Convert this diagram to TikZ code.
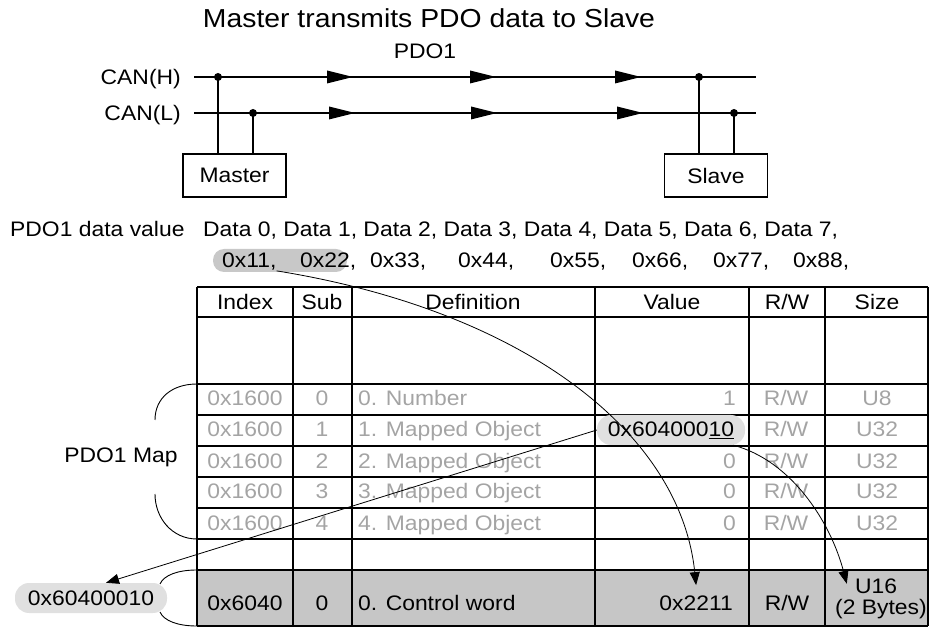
\documentclass[tikz,border=0pt]{standalone}
\usepackage{fontspec}
\setmainfont[FakeStretch=1.09]{Liberation Sans}
\usepackage{tikz}
\usetikzlibrary{arrows.meta}
\definecolor{faded}{HTML}{A4A4A4}
\definecolor{rowgray}{HTML}{C6C6C6}
\definecolor{pilldark}{HTML}{C8C8C8}
\definecolor{pilllight}{HTML}{E0E0E0}

\begin{document}
\begin{tikzpicture}[x=1pt,y=-1pt,font=\fontsize{21}{16}\selectfont,
  bus/.style={line width=1.3pt},
  grid/.style={line width=1.6pt},
  box/.style={draw,line width=1.2pt,minimum width=103pt,minimum height=43pt},
  pill/.style={fill=pilllight,rounded corners=14pt,minimum height=30pt,inner xsep=0pt},
  txt/.style={anchor=base,inner sep=0pt},
  dim/.style={txt,text=faded},
  link/.style={line width=0.8pt,-{Triangle[length=13pt,width=10pt]}}]
  \useasboundingbox (0,0) rectangle (930,628);
  % bus
  \node[txt,font=\fontsize{26}{28}\selectfont] (title) at (429,28) {Master transmits PDO data to Slave};
  \node[txt] (pdo) at (425,59) {PDO1};
  \node[txt,anchor=base east] (canh) at (181,85) {CAN(H)};
  \node[txt,anchor=base east] (canl) at (181,121) {CAN(L)};
  \coordinate (hl) at (194,77); \coordinate (hr) at (756,77);
  \coordinate (ll) at (194,113); \coordinate (lr) at (756,113);
  \draw[bus] (hl) -- (hr); \draw[bus] (ll) -- (lr);
  \foreach \t in {353,496,641} \fill (\t,77) -- ++(-26,-6.5) -- ++(0,13) -- cycle;
  \foreach \t in {355,497,643} \fill (\t,113) -- ++(-26,-6.5) -- ++(0,13) -- cycle;
  \node[box] (master) at (234.5,175.5) {Master};
  \node[box] (slave) at (716,175.5) {Slave};
  \coordinate (mh) at (218,77); \coordinate (ml) at (253,113);
  \coordinate (sh) at (699,77); \coordinate (sl) at (734,113);
  \foreach \c/\b in {mh/master,ml/master,sh/slave,sl/slave}{
    \draw[bus] (\c) -- (\c |- \b.north);
    \fill (\c) circle (4pt);
  }
  % data bytes
  \node[txt,anchor=base west] (pdoval) at (10,237) {PDO1 data value};
  \node[txt,anchor=base west] (data) at (203,237) {Data 0, Data 1, Data 2, Data 3, Data 4, Data 5, Data 6, Data 7,};
  \fill[pilldark,rounded corners=11pt] (213,249) rectangle (347,272);
  \foreach \x/\v [count=\i from 0] in {222/11,300/22,370/33,458/44,550/55,632/66,713/77,793/88}
    \node[txt,anchor=base west] (hx\i) at (\x,268) {0x\v,};
  % table
  \fill[rowgray] (197,570) rectangle (928,626);
  \foreach \y in {287,317,384,415,446,477,508,539,570,626} \draw[grid] (197,\y) -- (928,\y);
  \foreach \x in {197,293,352,595,749,825,928} \draw[grid] (\x,287) -- (\x,626);
  \foreach \x/\t [count=\i] in {245/Index,322/Sub,473/Definition,672/Value,787/{R/W},877/Size}
    \node[txt] (head\i) at (\x,310) {\t};
  \foreach \d/\v/\z [count=\i from 0] in {0. Number/1/U8,1. Mapped Object//U32,2. Mapped Object/0/U32,3. Mapped Object/0/U32,4. Mapped Object/0/U32}{
    \node[dim] (ix\i) at (245,{406+31*\i}) {0x1600};
    \node[dim] (sb\i) at (322,{406+31*\i}) {\i};
    \node[dim,anchor=base west] (df\i) at (358,{406+31*\i}) {\d};
    \node[dim,anchor=base east] (vl\i) at (736,{406+31*\i}) {\v};
    \node[dim] (rw\i) at (786,{406+31*\i}) {R/W};
    \node[dim] (sz\i) at (877,{406+31*\i}) {\z};
  }
  \node[pill,minimum width=148pt] (mapval) at (671,430) {0x604000\underline{10}};
  \node[txt] (cwix) at (245,610) {0x6040};
  \node[txt] (cwsb) at (322,610) {0};
  \node[txt,anchor=base west] (cwdf) at (358,610) {0. Control word};
  \node[txt,anchor=base east] (cw) at (733,610) {0x2211};
  \node[txt] (cwrw) at (787,610) {R/W};
  \node[txt] (u16) at (876,593) {U16};
  \node[txt] (bytes) at (881,614) {(2 Bytes)};
  % brackets
  \node[txt] (map) at (121,463) {PDO1 Map};
  \draw[line width=0.9pt] (197,384) .. controls (172,384) and (155,398) .. (155,420);
  \draw[line width=0.9pt] (155,494) .. controls (155,518) and (172,539) .. (197,539);
  \draw[line width=0.9pt] (197,570) .. controls (178,570) and (164,575) .. (160,584);
  \draw[line width=0.9pt] (160,612) .. controls (164,621) and (178,626) .. (197,626);
  \node[pill,minimum width=152pt] (leftval) at (91,598) {0x60400010};
  % mapping
  \draw[link] (hx0.south east) .. controls (520,310) and (680,430) .. ([yshift=10pt]cw.north);
  \draw[link] ([xshift=-12pt]mapval.south east) .. controls (790,460) and (830,520) .. ([xshift=-8pt,yshift=2pt]u16.west);
  \draw[link] (mapval.west) -- ([xshift=15pt]leftval.north);
\end{tikzpicture}
\end{document}
